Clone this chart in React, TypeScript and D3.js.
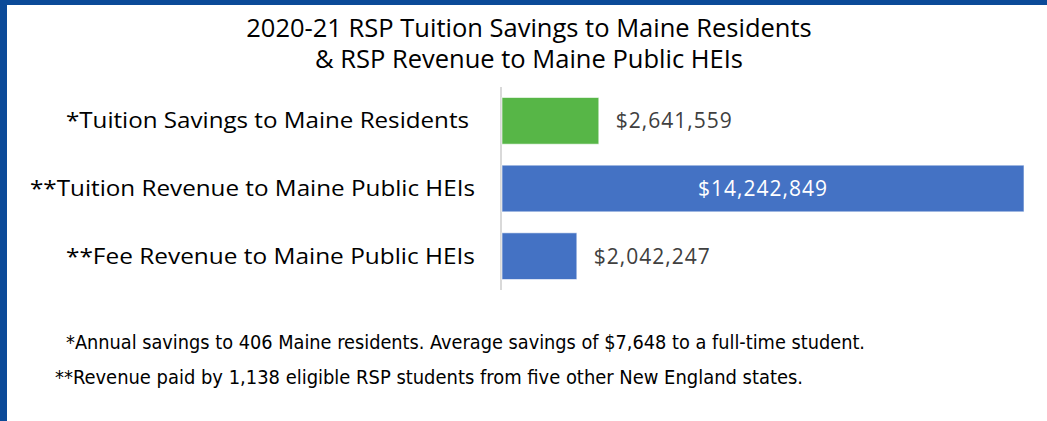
import React from "react";
import * as d3 from "d3";

const categories = [
  "*Tuition Savings to Maine Residents",
  "**Tuition Revenue to Maine Public HEIs",
  "**Fee Revenue to Maine Public HEIs",
];
const values = [2641559, 14242849, 2042247];
const barColors = ["#57B647", "#4472C4", "#4472C4"];
const titleLines = [
  "2020-21 RSP Tuition Savings to Maine Residents",
  "& RSP Revenue to Maine Public HEIs",
];
const footnotes = [
  "*Annual savings to 406 Maine residents. Average savings of $7,648 to a full-time student.",
  "**Revenue paid by 1,138 eligible RSP students from five other New England states.",
];

const W = 1047;
const H = 421;
const labelWidths = [403, 445, 409];
const labelEnds = [469, 475, 475];

export default function App() {
  const x = d3.scaleLinear().domain([0, d3.max(values) as number]).range([502, 1024]);
  const y = d3.scaleBand<string>().domain(categories).range([87, 290]).paddingInner(0.31).paddingOuter(0.155);
  const fmt = (v: number) => "$" + d3.format(",")(v);
  const labelFont = "'Open Sans', 'Noto Sans', sans-serif";
  return (
    <div style={{ position: "absolute", left: 0, top: 0 }}>
      <svg width={W} height={H} style={{ display: "block", background: "#fff" }}>
        <rect x={0} y={0} width={W} height={H} fill="#fff" />
        <rect x={0} y={0} width={W} height={5} fill="#0B4A98" />
        <rect x={0} y={0} width={7} height={H} fill="#0B4A98" />
        {titleLines.map((t, i) => (
          <text key={i} x={529} y={37 + i * 31} textAnchor="middle" fontFamily="'Open Sans', sans-serif" fontSize={25.5} fill="#000">
            {t}
          </text>
        ))}
        <line x1={501} x2={501} y1={87} y2={290} stroke="#D9D9D9" strokeWidth={2} />
        {categories.map((c, i) => {
          const by = y(c) as number;
          const bh = y.bandwidth();
          const xe = x(values[i]);
          const inside = values[i] > 8000000;
          return (
            <g key={c}>
              <rect x={x(0)} y={by} width={xe - x(0)} height={bh} fill={barColors[i]} stroke="#fff" strokeOpacity={0.6} strokeWidth={1} />
              <text
                x={labelEnds[i]}
                y={by + bh / 2}
                dy="0.36em"
                textAnchor="end"
                fontFamily={labelFont}
                fontSize={21}
                fill="#000"
                textLength={labelWidths[i]}
                lengthAdjust="spacingAndGlyphs"
              >
                {c}
              </text>
              <text
                x={inside ? (x(0) + xe) / 2 : xe + 17}
                y={by + bh / 2}
                dy="0.36em"
                textAnchor={inside ? "middle" : "start"}
                fontFamily={labelFont}
                fontSize={21}
                letterSpacing={1}
                fill={inside ? "#fff" : "#404040"}
              >
                {fmt(values[i])}
              </text>
            </g>
          );
        })}
        <text x={66} y={349} fontFamily="'DejaVu Sans Condensed', 'Liberation Sans Narrow', sans-serif" fontSize={20} fill="#000" textLength={799} lengthAdjust="spacingAndGlyphs">
          {footnotes[0]}
        </text>
        <text x={55} y={384} fontFamily="'DejaVu Sans Condensed', 'Liberation Sans Narrow', sans-serif" fontSize={20} fill="#000" textLength={748} lengthAdjust="spacingAndGlyphs">
          {footnotes[1]}
        </text>
      </svg>
    </div>
  );
}
